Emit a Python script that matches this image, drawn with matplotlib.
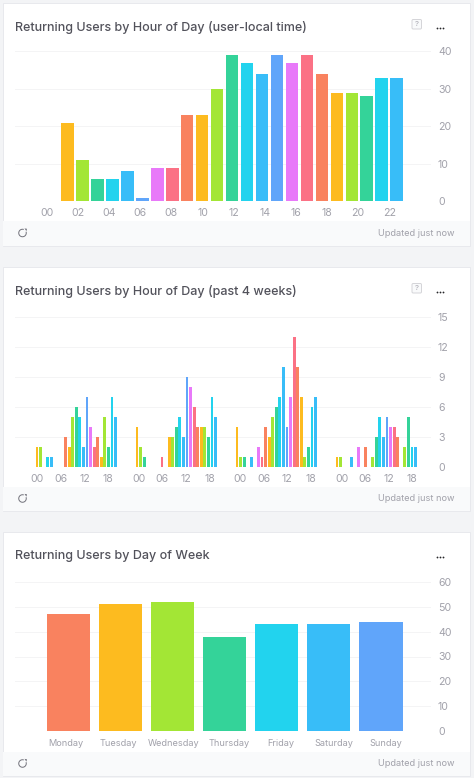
import matplotlib
matplotlib.use("Agg")
import matplotlib.pyplot as plt
from matplotlib.patches import Rectangle, FancyBboxPatch, Arc, Polygon
import numpy as np

plt.rcParams['font.family'] = ['Inter', 'DejaVu Sans']

W, H = 474, 778

# colours cycle through these, by hour or by day
palette = ['#F9825F', '#FDBB1F', '#A3E635', '#34D399', '#22D3EE',
           '#38BDF8', '#60A5FA', '#E879F9', '#FB7185']

# chart 1
hours = list(range(24))
hour_values = [0, 21, 11, 6, 6, 8, 1, 9, 9, 23, 23, 30, 39, 37, 34, 39, 37, 39, 34, 29, 29, 28, 33, 33]
hour_labels = ['00', '02', '04', '06', '08', '10', '12', '14', '16', '18', '20', '22']

# chart 2, one list per day, index = hour
day1 = [0, 2, 2, 0, 1, 1, 0, 0, 0, 3, 2, 5, 6, 5, 2, 7, 4, 2, 3, 1, 5, 2, 7, 5]
day2 = [0, 4, 2, 1, 0, 0, 0, 0, 1, 0, 3, 3, 4, 5, 3, 9, 8, 6, 4, 4, 4, 3, 7, 5]
day3 = [0, 4, 1, 1, 0, 1, 0, 2, 1, 4, 3, 5, 6, 7, 10, 4, 7, 13, 10, 7, 1, 2, 6, 7]
day4 = [0, 1, 1, 0, 0, 1, 0, 2, 0, 2, 0, 1, 3, 5, 3, 5, 4, 4, 3, 0, 2, 5, 2, 2]
weeks = [day1, day2, day3, day4]
week_labels = ['00', '06', '12', '18']

# chart 3
days = ['Monday', 'Tuesday', 'Wednesday', 'Thursday', 'Friday', 'Saturday', 'Sunday']
day_values = [47, 51, 52, 38, 43, 43, 44]
day_label_pos = [-0.05, 0.97, 2.02, 3.08, 4.08, 5.09, 6.09]

fig = plt.figure(figsize=(W / 100, H / 100), dpi=100, facecolor='#F3F4F6')

# background layer in pixel coordinates
bg = fig.add_axes([0, 0, 1, 1], zorder=0)
bg.set_xlim(0, W)
bg.set_ylim(H, 0)
bg.axis('off')


def add_card(top, bottom, foot, title, help_icon=True):
    bg.add_patch(Rectangle((3, top), 467.5, bottom - top, fc='white', ec='#E5E7EB', lw=0.6))
    bg.add_patch(Rectangle((3.5, foot), 466.5, bottom - foot - 0.5, fc='#F9FAFB', ec='none'))
    bg.text(15, top + 24.5, title, fontsize=9.0, color='#52525B', fontweight='medium',
            va='center', ha='left')
    bg.text(455, foot + 12, 'Updated just now', fontsize=6.6, color='#A1A1AA',
            va='center', ha='right')
    # three dots
    for dx in (-2.6, 0, 2.6):
        bg.plot(440 + dx, top + 24.5, 'o', ms=1.3, color='#27272A', mew=0)
    # refresh icon
    cy = foot + 12
    bg.add_patch(Arc((22.5, cy), 7.5, 7.5, theta1=-20, theta2=290, lw=0.7, color='#71717A'))
    bg.add_patch(Polygon([[24.5, cy - 4.6], [27, cy - 4.2], [26.4, cy - 1.8]], closed=True,
                         fc='#71717A', ec='none'))
    if help_icon:
        bg.add_patch(FancyBboxPatch((412, top + 16.5), 9.5, 9.5, boxstyle='round,pad=0,rounding_size=1.2',
                                    fc='#F9FAFB', ec='#D4D4D8', lw=0.7))
        bg.text(416.7, top + 21.3, '?', fontsize=5.5, color='#A1A1AA', ha='center', va='center')


add_card(3, 246, 221, 'Returning Users by Hour of Day (user-local time)')
add_card(267, 511, 486.5, 'Returning Users by Hour of Day (past 4 weeks)')
add_card(532, 776, 751.5, 'Returning Users by Day of Week', help_icon=False)


def chart_axes(y_top, y_base):
    ax = fig.add_axes([15 / W, 1 - y_base / H, 416 / W, (y_base - y_top) / H], zorder=1)
    ax.patch.set_alpha(0)
    for s in ax.spines.values():
        s.set_visible(False)
    ax.yaxis.tick_right()
    ax.grid(axis='y', color='#F4F4F5', lw=0.7)
    ax.set_axisbelow(True)
    ax.tick_params(length=0, labelsize=7.6, labelcolor='#A1A1AA')
    ax.tick_params(axis='y', pad=5)
    return ax


# hour of day
ax1 = chart_axes(51.5, 201.5)
ax1.bar(hours, hour_values, width=0.83, color=[palette[h % 9] for h in hours])
ax1.set_xlim(-2.52, 25.3)
ax1.set_ylim(0, 40)
ax1.set_yticks([0, 10, 20, 30, 40])
ax1.set_xticks([-0.38 + 2.08 * i for i in range(12)], hour_labels)
ax1.tick_params(axis='x', pad=5)

# past 4 weeks
ax2 = chart_axes(316.7, 466.7)
for d, vals in enumerate(weeks):
    xs = [d * 28 + h for h in range(24)]
    ax2.bar(xs, vals, width=0.8, color=[palette[h % 9] for h in range(24)])
ax2.set_xlim(-5.16, 111.33)
ax2.set_ylim(0, 15)
ax2.set_yticks([0, 3, 6, 9, 12, 15])
tick_pos = []
tick_txt = []
for d in range(4):
    for k, lab in enumerate(week_labels):
        tick_pos.append(1.08 + d * 28.4 + k * 6.61)
        tick_txt.append(lab)
ax2.set_xticks(tick_pos, tick_txt)
ax2.tick_params(axis='x', pad=5)

# day of week
ax3 = chart_axes(581.7, 731.3)
ax3.bar(range(7), day_values, width=0.83, color=palette[:7])
ax3.set_xlim(-1.02, 6.96)
ax3.set_ylim(0, 60)
ax3.set_yticks([0, 10, 20, 30, 40, 50, 60])
ax3.set_xticks(day_label_pos, days, fontsize=6.6)
ax3.tick_params(axis='x', pad=5.5)

fig.savefig('out.png', dpi=100, facecolor=fig.get_facecolor())
